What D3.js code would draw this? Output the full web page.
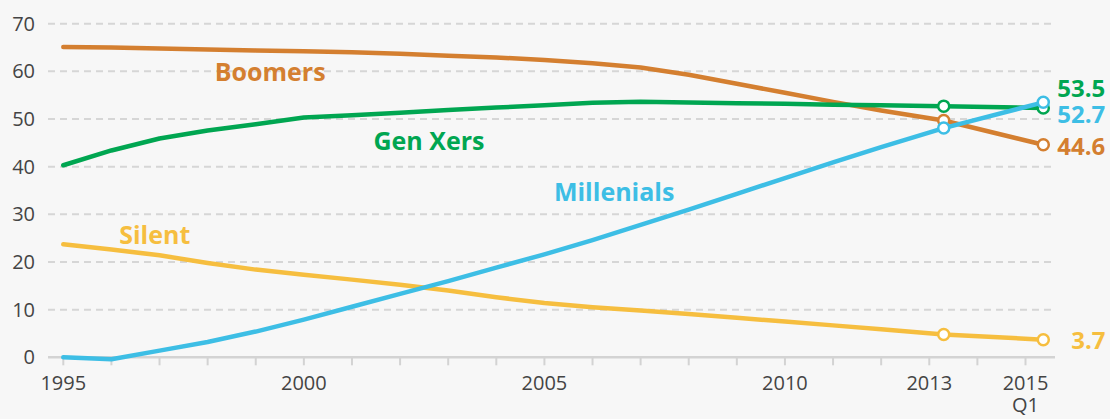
<!DOCTYPE html>
<html>
<head>
<meta charset="utf-8">
<script src="https://cdn.jsdelivr.net/npm/d3@7"></script>
<style>
  html, body { margin: 0; padding: 0; background: #f7f7f7; }
  svg { display: block; font-family: "Open Sans", "Noto Sans", sans-serif; }
</style>
</head>
<body>
<svg id="chart" width="1110" height="419"></svg>
<script>
// ---- data ----
const years = [1995, 1996, 1997, 1998, 1999, 2000, 2001, 2002, 2003, 2004, 2005,
               2006, 2007, 2008, 2009, 2010, 2011, 2012, 2013.3, 2015.37];
const boomers    = [65.1, 65.0, 64.8, 64.6, 64.4, 64.2, 64.0, 63.7, 63.3, 62.9, 62.4,
                    61.7, 60.8, 59.3, 57.4, 55.5, 53.6, 51.8, 49.7, 44.6];
const genXers    = [40.3, 43.4, 45.9, 47.6, 48.9, 50.3, 50.8, 51.3, 51.9, 52.4, 52.9,
                    53.4, 53.6, 53.45, 53.3, 53.2, 53.0, 52.9, 52.7, 52.3];
const millenials = [0.0, -0.4, 1.4, 3.2, 5.4, 7.9, 10.6, 13.3, 16.0, 18.8, 21.6,
                    24.6, 27.8, 31.0, 34.3, 37.6, 40.9, 44.1, 48.1, 53.5];
const silent     = [23.7, 22.6, 21.4, 19.8, 18.4, 17.3, 16.3, 15.2, 14.0, 12.6, 11.4,
                    10.5, 9.8, 9.1, 8.3, 7.5, 6.7, 5.9, 4.8, 3.7];
const seriesNames = ["Silent", "Boomers", "Gen Xers", "Millenials"];
const endLabels   = ["3.7", "44.6", "53.5", "52.7"];
const yTicks = [0, 10, 20, 30, 40, 50, 60, 70];
const xTickYears = d3.range(1995, 2016);
const xTickLabels = [[["1995"], 1995], [["2000"], 2000], [["2005"], 2005], [["2010"], 2010], [["2013"], 2013], [["2015", "Q1"], 2015]];
const markerIdx = [18, 19];

// ---- styles ----
const colors = { "Silent": "#f6be3f", "Boomers": "#d47f30", "Gen Xers": "#00a651", "Millenials": "#3dbee5" };
const valuesByName = { "Silent": silent, "Boomers": boomers, "Gen Xers": genXers, "Millenials": millenials };

const svg = d3.select("#chart");
const x = d3.scaleLinear().domain([1995, 2015]).range([63.3, 1025.5]);
const y = d3.scaleLinear().domain([0, 70]).range([357.3, 23.7]);
const gridX0 = 48, gridX1 = 1055;

// grid
svg.append("g").selectAll("line").data(yTicks.filter(d => d > 0)).join("line")
  .attr("x1", gridX0).attr("x2", gridX1)
  .attr("y1", d => y(d)).attr("y2", d => y(d))
  .attr("stroke", "#d6d6d6").attr("stroke-width", 2)
  .attr("stroke-dasharray", "7,5");

// y labels
svg.append("g").selectAll("text").data(yTicks).join("text")
  .attr("x", 35).attr("y", d => y(d)).attr("dy", "0.35em")
  .attr("text-anchor", "end").attr("font-size", 20).attr("fill", "#444")
  .text(d => d);

// x axis line
svg.append("line").attr("x1", gridX0).attr("x2", gridX1)
  .attr("y1", y(0)).attr("y2", y(0))
  .attr("stroke", "#d3d3d3").attr("stroke-width", 2.5);
// ticks
svg.append("g").selectAll("line").data(xTickYears).join("line")
  .attr("x1", d => x(d)).attr("x2", d => x(d))
  .attr("y1", y(0)).attr("y2", y(0) + 8)
  .attr("stroke", "#d3d3d3").attr("stroke-width", 2);
// x labels (multi-line via tspans)
svg.append("g").selectAll("text").data(xTickLabels).join("text")
  .attr("text-anchor", "middle").attr("font-size", 20).attr("fill", "#444")
  .each(function(d) {
    const t = d3.select(this);
    d[0].forEach((s, i) => {
      t.append("tspan").attr("x", x(d[1])).attr("y", 390 + i * 22).text(s);
    });
  });

// lines
const line = d3.line().x((d, i) => x(years[i])).y(d => y(d));
seriesNames.forEach(name => {
  const vals = valuesByName[name];
  svg.append("path").datum(vals)
    .attr("d", line).attr("fill", "none")
    .attr("stroke", colors[name]).attr("stroke-width", 4.5)
    .attr("stroke-linejoin", "round").attr("stroke-linecap", "round");
  svg.append("g").selectAll("circle").data(markerIdx).join("circle")
    .attr("cx", i => x(years[i])).attr("cy", i => y(vals[i])).attr("r", 5.5)
    .attr("fill", "#fff").attr("stroke", colors[name]).attr("stroke-width", 2.5);
});

// series labels (position: [year, value])
const seriesLabelPos = { "Boomers": [1999.3, 59.9], "Gen Xers": [2002.6, 45.3], "Millenials": [2006.45, 34.6], "Silent": [1996.9, 25.7] };
seriesNames.forEach(name => {
  const p = seriesLabelPos[name];
  svg.append("text").attr("x", x(p[0])).attr("y", y(p[1])).attr("dy", "0.35em")
    .attr("text-anchor", "middle").attr("font-size", 25).attr("font-weight", 700)
    .attr("fill", colors[name]).text(name);
});

// end labels: one text block, one tspan per series
const endLabelOffset = { "Silent": [28, 1], "Boomers": [14, 2], "Gen Xers": [14, -20], "Millenials": [14, 12] };
const endText = svg.append("text").attr("font-size", 24).attr("font-weight", 700);
seriesNames.forEach((name, k) => {
  const vals = valuesByName[name];
  const last = vals.length - 1;
  const off = endLabelOffset[name];
  endText.append("tspan")
    .attr("x", x(years[last]) + off[0]).attr("y", y(vals[last]) + off[1] + 8.5)
    .attr("fill", colors[name])
    .text(endLabels[k]);
});
</script>
</body>
</html>
